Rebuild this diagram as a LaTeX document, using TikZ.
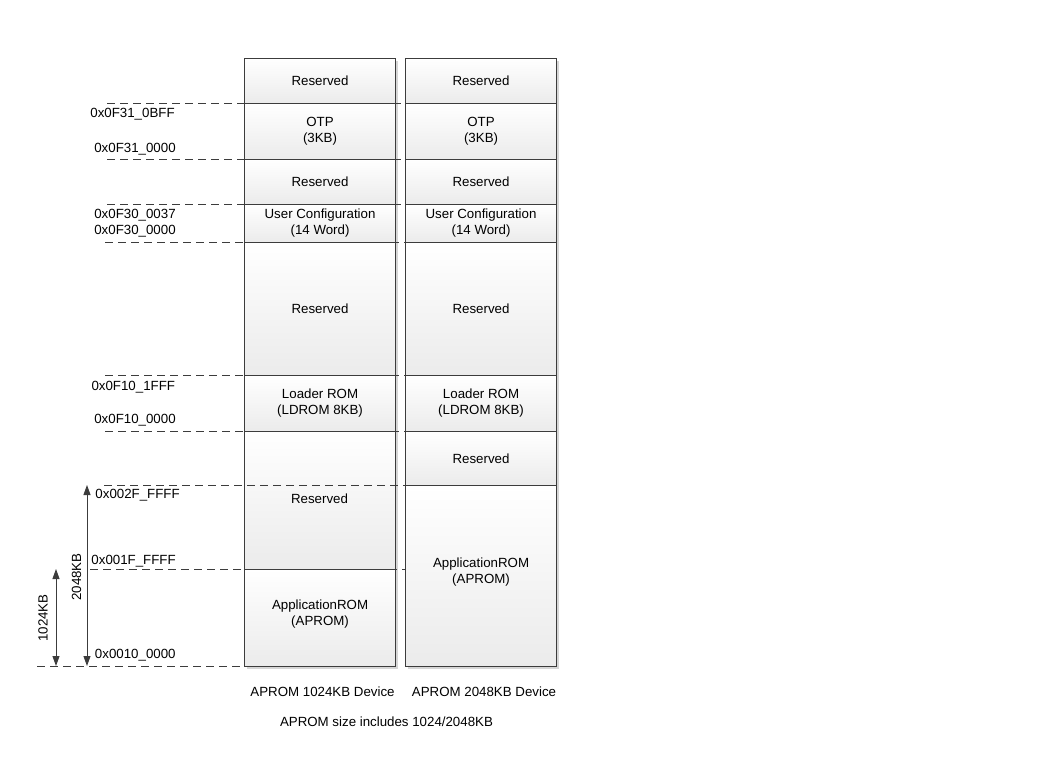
\documentclass[tikz,border=0pt]{standalone}
\usepackage{fontspec}
\setmainfont{Liberation Sans}
\usetikzlibrary{shadows,arrows.meta}
\definecolor{edge}{HTML}{3C3C3C}
\definecolor{fillbot}{HTML}{EBEBEB}
\begin{document}
\begin{tikzpicture}[x=1pt,y=-1pt,
  mem/.style={draw=edge, line width=1.1pt, top color=white, bottom color=fillbot,
    minimum width=151pt, anchor=north west, inner sep=0pt, align=center,
    font=\fontsize{13.3}{16}\selectfont,
    drop shadow={shadow xshift=2.2pt, shadow yshift=-2.2pt, fill=black!16, opacity=1}},
  txt/.style={font=\fontsize{13.3}{16}\selectfont, align=center, inner sep=0pt},
  addr/.style={font=\fontsize{13.3}{16}\selectfont, inner sep=0pt, text height=9.5pt, text depth=0pt},
  guide/.style={draw=edge, line width=0.9pt, dash pattern=on 8pt off 5pt},
  dim/.style={draw=edge, line width=0.9pt, {Triangle[length=10pt,width=7pt]}-{Triangle[length=10pt,width=7pt]}}
]
\useasboundingbox (0,0) rectangle (1053,762);

% ---- column 1 (1024KB device)
\node[mem, minimum height=45pt]  (a1) at (244,58)  {Reserved};
\node[mem, minimum height=56pt]  (a2) at (244,103) {OTP\\(3KB)};
\node[mem, minimum height=45pt]  (a3) at (244,159) {Reserved};
\node[mem, minimum height=38pt]  (a4) at (244,204) {User Configuration\\(14 Word)};
\node[mem, minimum height=133pt] (a5) at (244,242) {Reserved};
\node[mem, minimum height=56pt]  (a6) at (244,375) {Loader ROM\\(LDROM 8KB)};
\node[mem, minimum height=138pt] (a7) at (244,431) {};
\node[mem, minimum height=97pt]  (a8) at (244,569) {};

% ---- column 2 (2048KB device)
\node[mem, minimum height=45pt]  (b1) at (405,58)  {Reserved};
\node[mem, minimum height=56pt]  (b2) at (405,103) {OTP\\(3KB)};
\node[mem, minimum height=45pt]  (b3) at (405,159) {Reserved};
\node[mem, minimum height=38pt]  (b4) at (405,204) {User Configuration\\(14 Word)};
\node[mem, minimum height=133pt] (b5) at (405,242) {Reserved};
\node[mem, minimum height=56pt]  (b6) at (405,375) {Loader ROM\\(LDROM 8KB)};
\node[mem, minimum height=54pt]  (b7) at (405,431) {Reserved};
\node[mem, minimum height=181pt] (b8) at (405,485) {};

\node[txt] (a7t) at (319.5,499) {Reserved};
\node[txt] (a8t) at ([yshift=4pt]a8.center) {ApplicationROM\\(APROM)};
\node[txt] (b8t) at ([yshift=3.5pt]b8.center) {ApplicationROM\\(APROM)};

% ---- dashed address guides
\coordinate (g1l) at (107,103); \coordinate (g1r) at (405,103);
\coordinate (g2l) at (107,159); \coordinate (g2r) at (405,159);
\coordinate (g3l) at (107,204); \coordinate (g3r) at (405,204);
\coordinate (g4l) at (105,242); \coordinate (g4r) at (405,242);
\coordinate (g5l) at (105,375); \coordinate (g5r) at (405,375);
\coordinate (g6l) at (105,431); \coordinate (g6r) at (405,431);
\coordinate (g7l) at (104,485); \coordinate (g7r) at (405,485);
\coordinate (g8l) at (90,569);  \coordinate (g8r) at (405,569);
\coordinate (g9l) at (37,666);  \coordinate (g9r) at (244,666);
\foreach \i in {1,...,9} \draw[guide] (g\i l) -- (g\i r);

% ---- address labels
\node[addr] (l1) at (132.5,113) {0x0F31\_0BFF};
\node[addr] (l2) at (135,148)   {0x0F31\_0000};
\node[addr] (l3) at (135,214)   {0x0F30\_0037};
\node[addr] (l4) at (135,230)   {0x0F30\_0000};
\node[addr] (l5) at (133.3,386) {0x0F10\_1FFF};
\node[addr] (l6) at (135,419)   {0x0F10\_0000};
\node[addr] (l7) at (137.6,494) {0x002F\_FFFF};
\node[addr] (l8) at (133.6,560) {0x001F\_FFFF};
\node[addr] (l9) at (135.3,654) {0x0010\_0000};

% ---- size arrows
\coordinate (s2t) at (87,485); \coordinate (s2b) at (87,666);
\coordinate (s1t) at (56,569); \coordinate (s1b) at (56,666);
\draw[dim] (s2t) -- (s2b);
\draw[dim] (s1t) -- (s1b);
\node[txt, rotate=90] (k2) at (76.5,577) {2048KB};
\node[txt, rotate=90] (k1) at (43,618) {1024KB};

% ---- captions
\node[txt] (c1) at (322.5,692) {APROM 1024KB Device};
\node[txt] (c2) at (484,692) {APROM 2048KB Device};
\node[txt] (c3) at (386.5,722) {APROM size includes 1024/2048KB};
\end{tikzpicture}
\end{document}
